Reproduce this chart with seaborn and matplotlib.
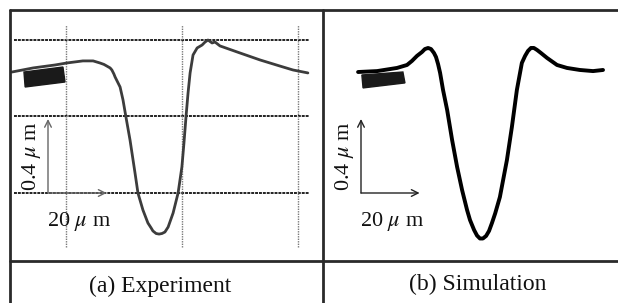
import numpy as np
import pandas as pd
import matplotlib
matplotlib.use("Agg")
import matplotlib.pyplot as plt
from matplotlib.patches import Polygon
import seaborn as sns

# ---------------- data (micrometres, origin at scale-bar corner) ----------------
exp_x = [-12.3, -5.1, 2.4, 6.5, 11.9, 15.4, 17.7, 19.1, 20.1, 21.2, 21.8, 22.5, 22.9,
         24.6, 25.6, 26.6, 28.0, 29.7, 30.7, 32.4, 34.1, 35.2, 35.8, 36.9, 37.9, 38.9,
         39.9, 41.0, 42.7, 44.4, 45.7, 46.4, 47.1, 47.8, 48.5, 49.5, 50.9, 52.6, 53.6,
         54.6, 56.0, 57.0, 58.7, 65.5, 72.4, 79.2, 83.6, 88.7]
exp_y = [0.654, 0.676, 0.692, 0.703, 0.714, 0.714, 0.703, 0.695, 0.686, 0.676, 0.665,
         0.643, 0.627, 0.573, 0.503, 0.411, 0.286, 0.108, 0.0, -0.092, -0.162, -0.189,
         -0.205, -0.219, -0.222, -0.219, -0.211, -0.184, -0.108, 0.0, 0.141, 0.270,
         0.411, 0.541, 0.649, 0.746, 0.784, 0.800, 0.816, 0.827, 0.811, 0.816, 0.795,
         0.757, 0.719, 0.686, 0.665, 0.649]

sim_x = [-1.0, 5.5, 12.3, 15.7, 17.4, 19.1, 20.8, 21.8, 22.9, 23.9, 24.9, 25.6, 26.3,
         27.0, 28.0, 29.4, 31.1, 32.8, 34.5, 36.2, 37.2, 38.6, 39.6, 40.6, 41.6, 42.7,
         43.7, 44.7, 45.8, 47.4, 49.8, 51.5, 53.2, 54.9, 56.0, 57.0, 58.0, 59.0, 60.1,
         61.4, 63.5, 66.9, 70.3, 74.7, 79.2, 82.6]
sim_y = [0.654, 0.659, 0.676, 0.692, 0.714, 0.741, 0.762, 0.778, 0.784, 0.778, 0.757,
         0.735, 0.697, 0.649, 0.557, 0.449, 0.286, 0.141, 0.016, -0.092, -0.146, -0.200,
         -0.230, -0.246, -0.246, -0.232, -0.205, -0.162, -0.110, -0.022, 0.178, 0.357,
         0.557, 0.703, 0.741, 0.768, 0.784, 0.784, 0.773, 0.757, 0.730, 0.692, 0.676,
         0.665, 0.659, 0.665]

# profilometer graph-paper lines (left panel)
grid_x = [6.2, 45.7, 85.3]
grid_y = [0.0, 0.416, 0.827]

# black blocks (probe marks)
blk_exp_x = [-8.2, 5.1, 5.8, -7.8]
blk_exp_y = [0.654, 0.681, 0.600, 0.573]
blk_sim_x = [0.3, 14.3, 15.0, 0.7]
blk_sim_y = [0.638, 0.654, 0.595, 0.568]

scale_len_x = 20.0   # um
scale_len_y = 0.4    # um
scale_lab_x = "20 $\\mu$ m"
scale_lab_y = "0.4 $\\mu$ m"
captions = ["(a) Experiment", "(b) Simulation"]

# ---------------- layout ----------------
W, H = 618, 303
SX, SY = 2.93, 185.0          # px per um
TOP, MID, LEFT, SPLIT = 10, 261, 10, 323
ORIG_Y = 193
ORIG_X = [48, 361]

sns.set_theme(style="white")
plt.rcParams["font.family"] = ["Liberation Serif", "DejaVu Serif"]
plt.rcParams["mathtext.fontset"] = "stix"

fig = plt.figure(figsize=(W / 100, H / 100), dpi=100)
fig.patch.set_facecolor("white")


def panel(px0, px1, ox):
    ax = fig.add_axes([px0 / W, (H - MID) / H, (px1 - px0) / W, (MID - TOP) / H])
    ax.set_xlim((px0 - ox) / SX, (px1 - ox) / SX)
    ax.set_ylim((ORIG_Y - MID) / SY, (ORIG_Y - TOP) / SY)
    ax.axis("off")
    ax.patch.set_alpha(0)
    return ax


axL = panel(LEFT, SPLIT, ORIG_X[0])
axR = panel(SPLIT, W, ORIG_X[1])

# grid lines on experiment panel
axL.hlines(grid_y, -11.6, 89.1, colors="#222222", linestyles=(0, (1.5, 0.5)), lw=1.4, zorder=1)
axL.vlines(grid_x, -0.292, 0.908, colors="#7a7a7a", linestyles=(0, (1, 0.8)), lw=1.0, zorder=1)

df_exp = pd.DataFrame({"x": exp_x, "y": exp_y})
df_sim = pd.DataFrame({"x": sim_x, "y": sim_y})
sns.lineplot(data=df_exp, x="x", y="y", ax=axL, sort=False, estimator=None,
             color="#3c3c3c", lw=2.0, zorder=3, solid_joinstyle="round")
sns.lineplot(data=df_sim, x="x", y="y", ax=axR, sort=False, estimator=None,
             color="black", lw=2.8, zorder=3, solid_joinstyle="round")
axL.axis("off"); axR.axis("off")

axL.add_patch(Polygon(np.c_[blk_exp_x, blk_exp_y], closed=True, color="#1a1a1a", zorder=4))
axR.add_patch(Polygon(np.c_[blk_sim_x, blk_sim_y], closed=True, color="#1a1a1a", zorder=4))

for ax, col in [(axL, "#666666"), (axR, "#222222")]:
    ax.annotate("", xy=(0, scale_len_y), xytext=(0, 0),
                arrowprops=dict(arrowstyle="->", color=col, lw=1.0, shrinkA=0, shrinkB=0))
    ax.annotate("", xy=(scale_len_x, 0), xytext=(0, 0),
                arrowprops=dict(arrowstyle="->", color=col, lw=1.0, shrinkA=0, shrinkB=0))
    ax.text(-5.8, scale_len_y / 2, scale_lab_y, rotation=90, ha="center", va="center",
            fontsize=16, color="#111111")
    ax.text(10.5, -0.152, scale_lab_x, ha="center", va="center", fontsize=16, color="#111111")

# table frame
ov = fig.add_axes([0, 0, 1, 1])
ov.set_xlim(0, W); ov.set_ylim(H, 0); ov.axis("off"); ov.patch.set_alpha(0)
lc = "#2a2a2a"
ov.plot([LEFT, W], [TOP, TOP], color=lc, lw=2)
ov.plot([LEFT, W], [MID, MID], color=lc, lw=2)
ov.plot([LEFT, LEFT], [TOP, H], color=lc, lw=2)
ov.plot([SPLIT, SPLIT], [TOP, H], color=lc, lw=2)
ov.text(160, 286, captions[0], ha="center", va="center", fontsize=17, color="#111111")
ov.text(478, 284, captions[1], ha="center", va="center", fontsize=17, color="#111111")

fig.savefig("out.png", dpi=100, facecolor="white")
